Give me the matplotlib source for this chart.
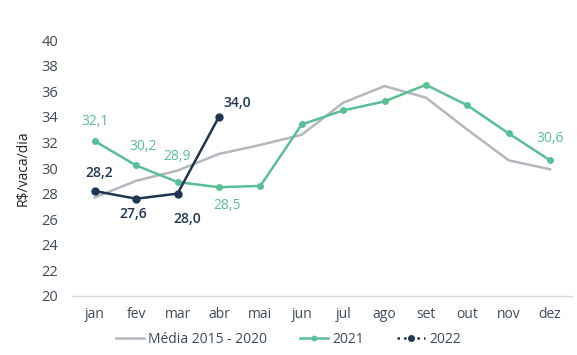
"""Custo R$/vaca/dia - média 2015-2020, 2021 e 2022."""

import matplotlib.pyplot as plt

months = ["jan", "fev", "mar", "abr", "mai", "jun", "jul", "ago", "set", "out", "nov", "dez"]
media_2015_2020 = [27.7, 29.0, 29.8, 31.1, 31.8, 32.6, 35.1, 36.4, 35.5, 33.0, 30.6, 29.9]
values_2021 = [32.1, 30.2, 28.9, 28.5, 28.6, 33.4, 34.5, 35.2, 36.5, 34.9, 32.7, 30.6]
values_2022 = [28.2, 27.6, 28.0, 34.0]
y_ticks = list(range(20, 41, 2))

GREEN = "#5bbf95"
NAVY = "#1f3552"
GRAY = "#b3b7be"
TEXT = "#3e4a5a"

plt.rcParams["font.family"] = ["Open Sans", "DejaVu Sans"]

fig = plt.figure(figsize=(5.77, 3.55), dpi=100)
ax = fig.add_axes([0.1248, 0.1662, 0.8666, 0.7211])

x_all = list(range(len(months)))
ax.plot(x_all, media_2015_2020, color=GRAY, linewidth=1.8, label="Média 2015 - 2020")
ax.plot(x_all, values_2021, color=GREEN, linewidth=1.8, marker="o", markersize=4,
        label="2021")
x_2022 = list(range(len(values_2022)))
ax.plot(x_2022, values_2022, color=NAVY, linewidth=1.8, marker="o", markersize=5,
        label="2022")

# data labels: (index, dx points, dy points, va)
labels_2021 = [(0, 0, 9, "bottom"), (1, 5, 8, "bottom"), (2, 0, 13, "bottom"),
               (3, 6, -8, "top"), (11, 0, 10, "bottom")]
labels_2022 = [(0, 3, 8, "bottom"), (1, -2, -6, "top"), (2, 7, -13, "top"),
               (3, 13, 5, "bottom")]

for i, dx, dy, va in labels_2021:
    ax.annotate(f"{values_2021[i]:.1f}".replace(".", ","), (i, values_2021[i]),
                xytext=(dx, dy), textcoords="offset points", ha="center", va=va,
                color=GREEN, fontsize=10)
for i, dx, dy, va in labels_2022:
    ax.annotate(f"{values_2022[i]:.1f}".replace(".", ","), (i, values_2022[i]),
                xytext=(dx, dy), textcoords="offset points", ha="center", va=va,
                color=NAVY, fontsize=10, fontweight="semibold")

ax.set_xlim(-0.55, 11.53)
ax.set_ylim(20, 40)
ax.set_xticks(x_all)
ax.set_xticklabels(months)
ax.set_yticks(y_ticks)
ax.tick_params(axis="both", length=0, labelsize=10, colors=TEXT)
ax.tick_params(axis="y", labelsize=10.5)
ax.tick_params(axis="x", pad=8)
ax.tick_params(axis="y", pad=10)
ax.set_ylabel("R$/vaca/dia", fontsize=10, color="#222222", labelpad=8)

for side in ["top", "right", "left"]:
    ax.spines[side].set_visible(False)
ax.spines["bottom"].set_color("#d9dbde")
ax.spines["bottom"].set_linewidth(1)

handles, texts = ax.get_legend_handles_labels()
handles[2].set_linestyle(":")
leg = fig.legend(handles, texts, loc="center", bbox_to_anchor=(0.5, 0.043), ncol=3,
                 frameon=False, fontsize=10, handlelength=2.0, columnspacing=2.4,
                 handletextpad=0.3, markerscale=0.8)
for t in leg.get_texts():
    t.set_color(TEXT)
handles[2].set_linestyle("-")

fig.savefig("out.png", dpi=100)
